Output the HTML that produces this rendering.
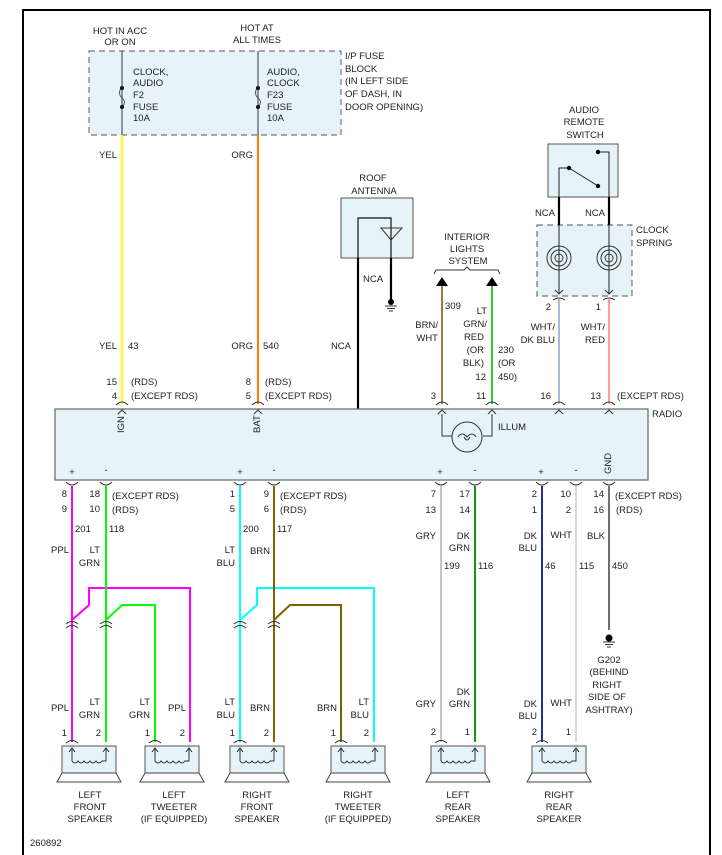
<!DOCTYPE html>
<html><head><meta charset="utf-8"><style>
html,body{margin:0;padding:0;background:#fff;}
svg{display:block;}
text{font-family:"Liberation Sans",sans-serif;font-size:9.5px;fill:#222;}
</style></head><body>
<svg width="722" height="855" viewBox="0 0 722 855" xmlns="http://www.w3.org/2000/svg">
<defs>
<g id="ct"><path d="M-6,0 Q0,-6 6,0" fill="none" stroke="#333" stroke-width="1"/><path d="M-4,9 L0,5 L4,9" fill="none" stroke="#333" stroke-width="1"/></g>
<g id="cb"><path d="M-6,0 Q0,6 6,0" fill="none" stroke="#333" stroke-width="1"/></g>
<g id="cm"><path d="M-6,0 Q0,-5 6,0 M-6,4 Q0,-1 6,4" fill="none" stroke="#333" stroke-width="1"/></g>
<g id="sp">
<path d="M-6,-3 Q0,-8 6,-3" fill="none" stroke="#333" stroke-width="1"/>
<rect x="-10" y="0" width="54" height="27" fill="#e6f3f9" stroke="#555" stroke-width="1"/>
<path d="M-15,36 L-10,27 L44,27 L49,36 Z" fill="#fff" stroke="#444" stroke-width="1"/>
<path d="M0,2 L0,15 Q3,19 6,15 Q9,19 12,15 Q15,19 18,15 Q21,19 24,15 Q27,19 30,15 L34,15 L34,2" fill="none" stroke="#333" stroke-width="1"/>
<path d="M-3,6 L0,2 L3,6 M31,6 L34,2 L37,6" fill="none" stroke="#333" stroke-width="1"/>
</g>
</defs>

<!-- frame -->
<path d="M23,855 L23,10 L710,10 L710,855" fill="none" stroke="#000" stroke-width="2"/>

<!-- fuse block -->
<rect x="89" y="51" width="252" height="84" fill="#e6f3f9" stroke="#777" stroke-width="1.2" stroke-dasharray="6,4"/>
<line x1="122" y1="51" x2="122" y2="135" stroke="#555" stroke-width="1.2"/>
<line x1="258" y1="51" x2="258" y2="135" stroke="#555" stroke-width="1.2"/>
<path d="M122,87 Q117,93 122,98 Q127,102 122,107" fill="none" stroke="#555"/>
<path d="M258,87 Q253,93 258,98 Q263,102 258,107" fill="none" stroke="#555"/>
<circle cx="122" cy="88" r="2" fill="#111"/><circle cx="122" cy="107" r="2" fill="#111"/>
<circle cx="258" cy="88" r="2" fill="#111"/><circle cx="258" cy="107" r="2" fill="#111"/>
<text x="120" y="34" text-anchor="middle">HOT IN ACC</text><text x="120" y="45" text-anchor="middle">OR ON</text>
<text x="257" y="31" text-anchor="middle">HOT AT</text><text x="257" y="43" text-anchor="middle">ALL TIMES</text>
<text x="133" y="75">CLOCK,</text><text x="133" y="86">AUDIO</text><text x="133" y="98">F2</text><text x="133" y="110">FUSE</text><text x="133" y="121">10A</text>
<text x="267" y="75">AUDIO,</text><text x="267" y="86">CLOCK</text><text x="267" y="98">F23</text><text x="267" y="110">FUSE</text><text x="267" y="121">10A</text>
<text x="345" y="59">I/P FUSE</text><text x="345" y="72">BLOCK</text><text x="345" y="84">(IN LEFT SIDE</text><text x="345" y="97">OF DASH, IN</text><text x="345" y="110">DOOR OPENING)</text>

<!-- top wires -->
<line x1="122" y1="135" x2="122" y2="404" stroke="#ffff00" stroke-width="2"/>
<line x1="258" y1="135" x2="258" y2="404" stroke="#ff8000" stroke-width="2"/>
<text x="117" y="158" text-anchor="end">YEL</text>
<text x="253" y="158" text-anchor="end">ORG</text>
<text x="117" y="349" text-anchor="end">YEL</text><text x="128" y="349">43</text>
<text x="253" y="349" text-anchor="end">ORG</text><text x="263" y="349">540</text>
<text x="117" y="385" text-anchor="end">15</text><text x="131" y="385">(RDS)</text>
<text x="117" y="399" text-anchor="end">4</text><text x="131" y="399">(EXCEPT RDS)</text>
<text x="251" y="385" text-anchor="end">8</text><text x="265" y="385">(RDS)</text>
<text x="251" y="399" text-anchor="end">5</text><text x="265" y="399">(EXCEPT RDS)</text>

<!-- antenna -->
<text x="373" y="181" text-anchor="middle">ROOF</text><text x="374" y="194" text-anchor="middle">ANTENNA</text>
<rect x="341" y="198" width="72" height="60" fill="#e6f3f9" stroke="#555" stroke-width="1"/>
<path d="M358,410 L358,218 L391,218 L391,302" fill="none" stroke="#111" stroke-width="1.2"/>
<line x1="358" y1="258" x2="358" y2="410" stroke="#000" stroke-width="2.2"/>
<line x1="391" y1="258" x2="391" y2="300" stroke="#000" stroke-width="2.2"/>
<path d="M381,228 L402,228 L391,240 Z" fill="none" stroke="#333"/>
<circle cx="391" cy="302" r="3" fill="#000"/>
<path d="M385,306 L397,306 M387,308.5 L395,308.5 M389,311 L393,311" stroke="#333"/>
<text x="363" y="282">NCA</text>
<text x="351" y="349" text-anchor="end">NCA</text>

<!-- interior lights -->
<text x="467" y="240" text-anchor="middle">INTERIOR</text><text x="467" y="252" text-anchor="middle">LIGHTS</text><text x="468" y="264" text-anchor="middle">SYSTEM</text>
<path d="M434,274 L436,270 L464,270 L467,267 L470,270 L498,270 L500,274" fill="none" stroke="#333"/>
<line x1="442" y1="285" x2="442" y2="404" stroke="#a07838" stroke-width="2"/>
<line x1="492" y1="285" x2="492" y2="404" stroke="#30d030" stroke-width="2"/>
<path d="M436,286 L442,277 L448,286 Z M486,286 L492,277 L498,286 Z" fill="#000"/>
<text x="445" y="309">309</text>
<text x="438" y="328" text-anchor="end">BRN/</text><text x="438" y="341" text-anchor="end">WHT</text>
<text x="487" y="314" text-anchor="end">LT</text><text x="487" y="327" text-anchor="end">GRN/</text><text x="484" y="340" text-anchor="end">RED</text><text x="484" y="353" text-anchor="end">(OR</text><text x="484" y="366" text-anchor="end">BLK)</text><text x="486" y="380" text-anchor="end">12</text>
<text x="498" y="353">230</text><text x="498" y="366">(OR</text><text x="498" y="380">450)</text>
<text x="436" y="399" text-anchor="end">3</text><text x="486" y="399" text-anchor="end">11</text>

<!-- audio remote switch -->
<text x="584" y="113" text-anchor="middle">AUDIO</text><text x="584" y="125" text-anchor="middle">REMOTE</text><text x="585" y="138" text-anchor="middle">SWITCH</text>
<rect x="548" y="144" width="70" height="53" fill="#e6f3f9" stroke="#555"/>
<rect x="537" y="225" width="95" height="71" fill="#e6f3f9" stroke="#555" stroke-dasharray="6,4"/>
<path d="M559,294 L559,168 L569,168 L598,186" fill="none" stroke="#222"/>
<path d="M609,294 L609,152 L598,152" fill="none" stroke="#222"/>
<circle cx="569" cy="168" r="2.2" fill="#000"/><circle cx="598" cy="186" r="2.2" fill="#000"/><circle cx="598" cy="152" r="2.2" fill="#000"/>
<line x1="559" y1="197" x2="559" y2="225" stroke="#000" stroke-width="2.2"/>
<line x1="609" y1="197" x2="609" y2="225" stroke="#000" stroke-width="2.2"/>
<text x="555" y="216" text-anchor="end">NCA</text><text x="605" y="216" text-anchor="end">NCA</text>
<g fill="none" stroke="#333">
<circle cx="559" cy="258" r="12"/><circle cx="559" cy="258" r="8"/><circle cx="559" cy="258" r="4"/>
<circle cx="609" cy="258" r="12"/><circle cx="609" cy="258" r="8"/><circle cx="609" cy="258" r="4"/>
<path d="M555,290 L559,294 L563,290 M605,290 L609,294 L613,290"/>
<path d="M553,300 Q559,296 565,300 M603,300 Q609,296 615,300"/>
</g>
<text x="636" y="233">CLOCK</text><text x="636" y="246">SPRING</text>
<line x1="559" y1="299" x2="559" y2="404" stroke="#b0b8d8" stroke-width="2"/>
<line x1="609" y1="299" x2="609" y2="404" stroke="#ff9a9a" stroke-width="2"/>
<text x="551" y="310" text-anchor="end">2</text><text x="601" y="310" text-anchor="end">1</text>
<text x="555" y="330" text-anchor="end">WHT/</text><text x="555" y="343" text-anchor="end">DK BLU</text>
<text x="605" y="330" text-anchor="end">WHT/</text><text x="605" y="343" text-anchor="end">RED</text>
<text x="551" y="399" text-anchor="end">16</text><text x="601" y="399" text-anchor="end">13</text><text x="617" y="399">(EXCEPT RDS)</text>

<!-- radio -->
<rect x="55" y="409" width="593" height="71" fill="#e6f3f9" stroke="#666" stroke-width="1.2"/>
<text x="652" y="417">RADIO</text>
<use href="#ct" x="122" y="405"/><use href="#ct" x="258" y="405"/><use href="#ct" x="442" y="405"/><use href="#ct" x="492" y="405"/><use href="#ct" x="559" y="405"/><use href="#ct" x="609" y="405"/>
<path d="M442,414 L442,436 L452,436 M492,414 L492,436 L483,436" fill="none" stroke="#333"/>
<circle cx="467" cy="437" r="15" fill="none" stroke="#333"/>
<path d="M458,437 Q462,431 467,437 Q472,431 476,437 M464,437 Q467,443 470,437" fill="none" stroke="#333"/>
<text x="498" y="430">ILLUM</text>
<text transform="translate(124,433) rotate(-90)">IGN</text>
<text transform="translate(260,433) rotate(-90)">BAT</text>
<text transform="translate(611,474) rotate(-90)">GND</text>
<text x="72" y="475" text-anchor="middle">+</text><text x="106" y="473" text-anchor="middle">-</text>
<text x="240" y="475" text-anchor="middle">+</text><text x="274" y="473" text-anchor="middle">-</text>
<text x="440" y="475" text-anchor="middle">+</text><text x="475" y="473" text-anchor="middle">-</text>
<text x="541" y="475" text-anchor="middle">+</text><text x="576" y="473" text-anchor="middle">-</text>
<use href="#cb" x="72" y="482"/><use href="#cb" x="106" y="482"/><use href="#cb" x="240" y="482"/><use href="#cb" x="274" y="482"/>
<use href="#cb" x="441" y="482"/><use href="#cb" x="475" y="482"/><use href="#cb" x="542" y="482"/><use href="#cb" x="576" y="482"/><use href="#cb" x="609" y="482"/>

<!-- front speaker wires -->
<g fill="none" stroke-width="2">
<path d="M72,486 L72,742" stroke="#ff00ff"/>
<path d="M72,620 L89,605 L89,588 L190,588 L190,742" stroke="#ff00ff"/>
<path d="M106,486 L106,742" stroke="#00ff00"/>
<path d="M106,620 L122,605 L155,605 L155,742" stroke="#00ff00"/>
<path d="M240,486 L240,742" stroke="#00ffff"/>
<path d="M240,620 L257,605 L257,588 L374,588 L374,742" stroke="#00ffff"/>
<path d="M274,486 L274,742" stroke="#806000"/>
<path d="M274,620 L290,605 L341,605 L341,742" stroke="#806000"/>
<path d="M441,486 L441,742" stroke="#c4c4c4"/>
<path d="M475,486 L475,742" stroke="#119911"/>
<path d="M542,486 L542,742" stroke="#2030a0"/>
<path d="M576,486 L576,742" stroke="#d8d8d8"/>
<path d="M609,486 L609,630" stroke="#707070"/>
</g>
<use href="#cm" x="72" y="624"/><use href="#cm" x="106" y="624"/><use href="#cm" x="240" y="624"/><use href="#cm" x="274" y="624"/>
<circle cx="609" cy="638" r="3.5" fill="#000"/>
<path d="M603,642 L615,642 M605,644.5 L613,644.5 M607,647 L611,647" stroke="#333"/>

<text x="67" y="497" text-anchor="end">8</text><text x="100" y="497" text-anchor="end">18</text><text x="112" y="499">(EXCEPT RDS)</text>
<text x="67" y="512" text-anchor="end">9</text><text x="100" y="512" text-anchor="end">10</text><text x="112" y="513">(RDS)</text>
<text x="75" y="532">201</text><text x="109" y="532">118</text>
<text x="69" y="553" text-anchor="end">PPL</text><text x="100" y="553" text-anchor="end">LT</text><text x="100" y="566" text-anchor="end">GRN</text>
<text x="235" y="497" text-anchor="end">1</text><text x="269" y="497" text-anchor="end">9</text><text x="280" y="499">(EXCEPT RDS)</text>
<text x="235" y="512" text-anchor="end">5</text><text x="269" y="512" text-anchor="end">6</text><text x="280" y="513">(RDS)</text>
<text x="243" y="532">200</text><text x="277" y="532">117</text>
<text x="235" y="553" text-anchor="end">LT</text><text x="235" y="566" text-anchor="end">BLU</text><text x="270" y="554" text-anchor="end">BRN</text>

<text x="436" y="497" text-anchor="end">7</text><text x="470" y="497" text-anchor="end">17</text>
<text x="436" y="513" text-anchor="end">13</text><text x="470" y="513" text-anchor="end">14</text>
<text x="436" y="539" text-anchor="end">GRY</text><text x="470" y="539" text-anchor="end">DK</text><text x="470" y="551" text-anchor="end">GRN</text>
<text x="444" y="569">199</text><text x="478" y="569">116</text>
<text x="537" y="497" text-anchor="end">2</text><text x="571" y="497" text-anchor="end">10</text><text x="604" y="497" text-anchor="end">14</text><text x="615" y="499">(EXCEPT RDS)</text>
<text x="537" y="513" text-anchor="end">1</text><text x="571" y="513" text-anchor="end">2</text><text x="604" y="513" text-anchor="end">16</text><text x="616" y="513">(RDS)</text>
<text x="537" y="539" text-anchor="end">DK</text><text x="537" y="551" text-anchor="end">BLU</text><text x="572" y="538" text-anchor="end">WHT</text><text x="605" y="539" text-anchor="end">BLK</text>
<text x="545" y="569">46</text><text x="579" y="569">115</text><text x="612" y="569">450</text>
<text x="609" y="663" text-anchor="middle">G202</text><text x="609" y="675" text-anchor="middle">(BEHIND</text><text x="607" y="688" text-anchor="middle">RIGHT</text><text x="607" y="700" text-anchor="middle">SIDE OF</text><text x="609" y="713" text-anchor="middle">ASHTRAY)</text>

<!-- speaker bottom labels -->
<text x="69" y="711" text-anchor="end">PPL</text><text x="100" y="705" text-anchor="end">LT</text><text x="100" y="718" text-anchor="end">GRN</text>
<text x="150" y="705" text-anchor="end">LT</text><text x="150" y="718" text-anchor="end">GRN</text><text x="186" y="711" text-anchor="end">PPL</text>
<text x="235" y="705" text-anchor="end">LT</text><text x="235" y="718" text-anchor="end">BLU</text><text x="270" y="711" text-anchor="end">BRN</text>
<text x="337" y="711" text-anchor="end">BRN</text><text x="369" y="705" text-anchor="end">LT</text><text x="369" y="718" text-anchor="end">BLU</text>
<text x="436" y="707" text-anchor="end">GRY</text><text x="470" y="695" text-anchor="end">DK</text><text x="470" y="707" text-anchor="end">GRN</text>
<text x="537" y="707" text-anchor="end">DK</text><text x="537" y="719" text-anchor="end">BLU</text><text x="572" y="706" text-anchor="end">WHT</text>
<text x="67" y="736" text-anchor="end">1</text><text x="101" y="736" text-anchor="end">2</text>
<text x="150" y="736" text-anchor="end">1</text><text x="185" y="736" text-anchor="end">2</text>
<text x="235" y="736" text-anchor="end">1</text><text x="269" y="736" text-anchor="end">2</text>
<text x="336" y="736" text-anchor="end">1</text><text x="369" y="736" text-anchor="end">2</text>
<text x="436" y="735" text-anchor="end">2</text><text x="470" y="735" text-anchor="end">1</text>
<text x="537" y="735" text-anchor="end">2</text><text x="571" y="735" text-anchor="end">1</text>

<use href="#sp" x="72" y="746"/><use href="#sp" x="155" y="746"/><use href="#sp" x="240" y="746"/>
<use href="#sp" x="341" y="746"/><use href="#sp" x="441" y="746"/><use href="#sp" x="542" y="746"/>

<text x="90" y="798" text-anchor="middle">LEFT</text><text x="90" y="810" text-anchor="middle">FRONT</text><text x="90" y="822" text-anchor="middle">SPEAKER</text>
<text x="174" y="798" text-anchor="middle">LEFT</text><text x="174" y="810" text-anchor="middle">TWEETER</text><text x="174" y="822" text-anchor="middle">(IF EQUIPPED)</text>
<text x="257" y="798" text-anchor="middle">RIGHT</text><text x="257" y="810" text-anchor="middle">FRONT</text><text x="257" y="822" text-anchor="middle">SPEAKER</text>
<text x="358" y="798" text-anchor="middle">RIGHT</text><text x="358" y="810" text-anchor="middle">TWEETER</text><text x="358" y="822" text-anchor="middle">(IF EQUIPPED)</text>
<text x="458" y="798" text-anchor="middle">LEFT</text><text x="458" y="810" text-anchor="middle">REAR</text><text x="458" y="822" text-anchor="middle">SPEAKER</text>
<text x="559" y="798" text-anchor="middle">RIGHT</text><text x="559" y="810" text-anchor="middle">REAR</text><text x="559" y="822" text-anchor="middle">SPEAKER</text>
<text x="30" y="846">260892</text>
</svg>
</body></html>
